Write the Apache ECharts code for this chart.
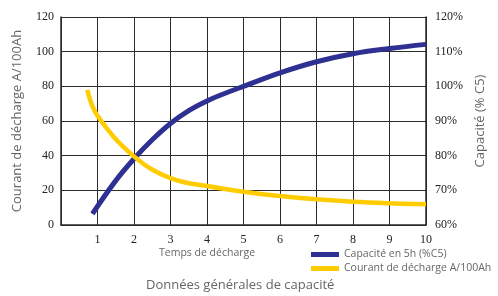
<!doctype html>
<html lang="fr">
<head>
    <meta charset="UTF-8">
    <title>Données générales de capacité</title>
    <style>
        body { margin: 0; background: #fff; }
        #main { width: 498px; height: 296px; }
    </style>
    <script src="https://cdn.jsdelivr.net/npm/echarts@6/dist/echarts.min.js"></script>
</head>
<body>
    <div id="main"></div>
    <script>
        // temps de décharge (h) / valeurs
        var capX = [0.86, 1.5, 2, 2.5, 3, 3.5, 4, 4.5, 5, 6, 7, 8, 9, 10];
        var capY = [63.2, 72.8, 79.1, 84.6, 89.3, 93, 95.8, 98, 100, 103.9, 107.1, 109.4, 110.9, 112.1];
        var curX = [0.72, 1, 2, 3, 4, 5, 6, 7, 8, 9, 10];
        var curY = [78, 63, 39.6, 27, 22.5, 19.2, 16.7, 14.8, 13.4, 12.5, 11.9];
        var seriesNames = ['Capacité en 5h (%C5)', 'Courant de décharge A/100Ah'];

        function pairs(xs, ys) {
            var out = [];
            for (var i = 0; i < xs.length; i++) out.push([xs[i], ys[i]]);
            return out;
        }

        var lineCol = '#2b2b2b';
        var tickFont = { fontFamily: 'Liberation Sans Narrow', fontSize: 12, color: '#222' };

        var chart = echarts.init(document.getElementById('main'));
        chart.setOption({
            animation: false,
            grid: { left: 61, right: 72, top: 17, bottom: 71 },
            legend: {
                data: seriesNames,
                orient: 'vertical',
                left: 306,
                top: 243,
                icon: 'rect',
                itemWidth: 28,
                itemHeight: 5,
                itemGap: 1,
                textStyle: { fontFamily: 'Open Sans', fontSize: 10.5, lineHeight: 13, color: '#666' }
            },
            xAxis: {
                type: 'value',
                min: 0, max: 10, interval: 1,
                axisLine: { lineStyle: { color: lineCol, width: 1.5 } },
                axisTick: { show: false },
                splitLine: { lineStyle: { color: lineCol, width: 1 } },
                axisLabel: Object.assign({ margin: 9, formatter: function (v) { return v === 0 ? '' : v; } }, tickFont)
            },
            yAxis: [{
                type: 'value',
                min: 0, max: 120, interval: 20,
                name: 'Courant de décharge A/100Ah',
                nameLocation: 'middle',
                nameRotate: 90,
                nameGap: 37,
                nameTextStyle: { fontFamily: 'Open Sans', fontSize: 13, color: '#666' },
                axisLine: { show: true, lineStyle: { color: lineCol, width: 1.5 } },
                axisTick: { show: false },
                splitLine: { lineStyle: { color: lineCol, width: 1 } },
                axisLabel: Object.assign({ margin: 7 }, tickFont)
            }, {
                type: 'value',
                min: 60, max: 120, interval: 10,
                position: 'right',
                name: 'Capacité (% C5)',
                nameLocation: 'middle',
                nameRotate: 90,
                nameGap: 48,
                nameTextStyle: { fontFamily: 'Open Sans', fontSize: 13, color: '#666' },
                axisLine: { show: true, lineStyle: { color: lineCol, width: 1.5 } },
                axisTick: { show: false },
                splitLine: { show: false },
                axisLabel: Object.assign({ margin: 9, formatter: '{value}%' }, tickFont)
            }],
            graphic: [{
                type: 'text',
                left: 159, top: 248,
                style: { text: 'Temps de décharge', font: '10.5px "Open Sans"', fill: '#666' }
            }, {
                type: 'text',
                left: 146, top: 279,
                style: { text: 'Données générales de capacité', font: '13px "Open Sans"', fill: '#666' }
            }],
            series: [{
                name: seriesNames[0],
                type: 'line',
                yAxisIndex: 1,
                smooth: 0.4,
                showSymbol: false,
                color: '#2e3192',
                lineStyle: { width: 5, cap: 'butt' },
                data: pairs(capX, capY)
            }, {
                name: seriesNames[1],
                type: 'line',
                yAxisIndex: 0,
                smooth: 0.4,
                showSymbol: false,
                color: '#ffcc00',
                lineStyle: { width: 4.5, cap: 'butt' },
                data: pairs(curX, curY)
            }]
        });
    </script>
</body>
</html>
